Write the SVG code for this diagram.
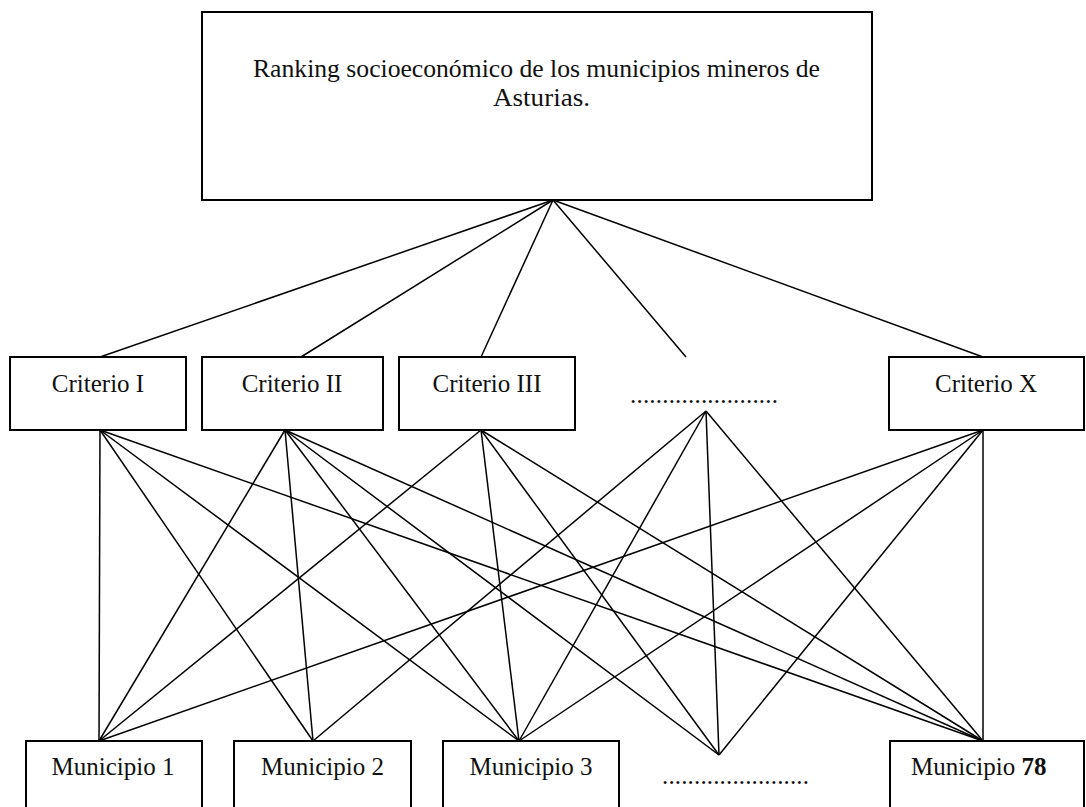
<svg xmlns="http://www.w3.org/2000/svg" width="1086" height="807" viewBox="0 0 1086 807">
<style>
.box{fill:#fff;stroke:#000;stroke-width:2}
.t{font-family:"Liberation Serif","Times New Roman",serif;font-size:25px;fill:#111}
.c{text-anchor:middle}
#connectors line{stroke:#000;stroke-width:1.5}
</style>
<rect width="1086" height="807" fill="#fff"/>
<g id="connectors">
<!-- top to criteria -->
<line x1="553" y1="200" x2="100" y2="357"/>
<line x1="553" y1="200" x2="301" y2="357"/>
<line x1="553" y1="200" x2="481" y2="357"/>
<line x1="553" y1="200" x2="686" y2="357"/>
<line x1="553" y1="200" x2="983" y2="357"/>
<!-- Criterio I -->
<line x1="100" y1="430" x2="99" y2="741"/>
<line x1="100" y1="430" x2="313" y2="741"/>
<line x1="100" y1="430" x2="519" y2="741"/>
<line x1="100" y1="430" x2="983" y2="741"/>
<!-- Criterio II -->
<line x1="285" y1="430" x2="99" y2="741"/>
<line x1="285" y1="430" x2="313" y2="741"/>
<line x1="285" y1="430" x2="519" y2="741"/>
<line x1="285" y1="430" x2="719" y2="755"/>
<line x1="285" y1="430" x2="983" y2="741"/>
<!-- Criterio III -->
<line x1="481" y1="430" x2="99" y2="741"/>
<line x1="481" y1="430" x2="519" y2="741"/>
<line x1="481" y1="430" x2="719" y2="755"/>
<line x1="481" y1="430" x2="983" y2="741"/>
<!-- dots -->
<line x1="706" y1="411" x2="313" y2="741"/>
<line x1="706" y1="411" x2="519" y2="741"/>
<line x1="706" y1="411" x2="719" y2="755"/>
<line x1="706" y1="411" x2="983" y2="741"/>
<!-- Criterio X -->
<line x1="983" y1="430" x2="99" y2="741"/>
<line x1="983" y1="430" x2="519" y2="741"/>
<line x1="983" y1="430" x2="719" y2="755"/>
<line x1="983" y1="430" x2="983" y2="741"/>
</g>
<g id="ranking">
<rect class="box" x="202" y="12" width="670" height="188"/>
<text class="t" x="253" y="77" textLength="567" lengthAdjust="spacingAndGlyphs">Ranking socioeconómico de los municipios mineros de</text>
<text class="t" x="493" y="106" textLength="97" lengthAdjust="spacingAndGlyphs">Asturias.</text>
</g>
<g id="criterio1">
<rect class="box" x="10" y="357" width="176" height="73"/>
<text class="t c" x="98" y="392">Criterio I</text>
</g>
<g id="criterio2">
<rect class="box" x="202" y="357" width="181" height="73"/>
<text class="t c" x="292" y="392">Criterio II</text>
</g>
<g id="criterio3">
<rect class="box" x="399" y="357" width="176" height="73"/>
<text class="t c" x="487" y="392">Criterio III</text>
</g>
<g id="criterio-dots">
<text class="t" x="630" y="403" textLength="148" lengthAdjust="spacing">.......................</text>
</g>
<g id="criterioX">
<rect class="box" x="889" y="357" width="195" height="73"/>
<text class="t c" x="986" y="392">Criterio X</text>
</g>
<g id="municipio1">
<rect class="box" x="26" y="741" width="176" height="80"/>
<text class="t c" x="113" y="775">Municipio 1</text>
</g>
<g id="municipio2">
<rect class="box" x="234" y="741" width="177" height="80"/>
<text class="t c" x="322.5" y="775">Municipio 2</text>
</g>
<g id="municipio3">
<rect class="box" x="443" y="741" width="176" height="80"/>
<text class="t c" x="531" y="775">Municipio 3</text>
</g>
<g id="municipio-dots">
<text class="t" x="662" y="784" textLength="147" lengthAdjust="spacing">.......................</text>
</g>
<g id="municipio78">
<rect class="box" x="890" y="741" width="194" height="80"/>
<text class="t" x="911" y="775">Municipio <tspan font-weight="bold">78</tspan></text>
</g>
</svg>
